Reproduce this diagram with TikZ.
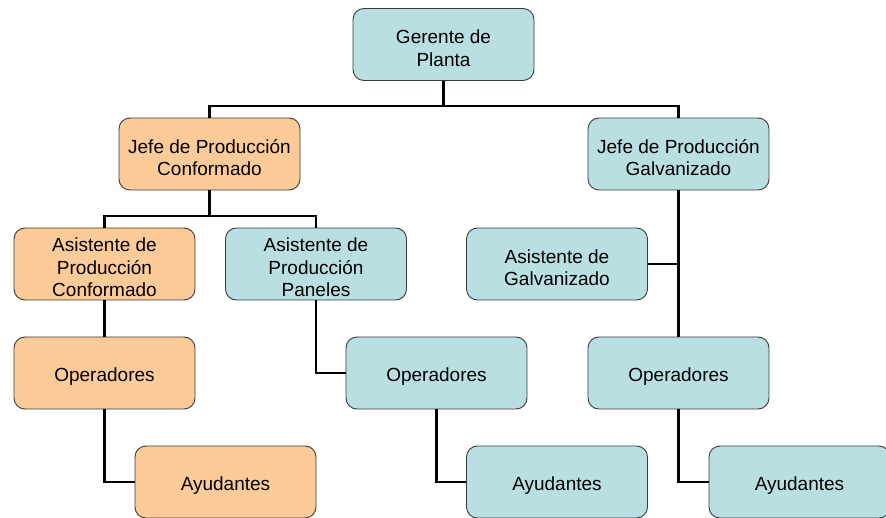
\documentclass[tikz,border=0pt]{standalone}
\usepackage{fontspec}
\setmainfont{Liberation Sans}
\definecolor{orfill}{HTML}{FCCB98}
\definecolor{blfill}{HTML}{B9DFE3}
\definecolor{boxline}{HTML}{3A3A3A}
\begin{document}
\begin{tikzpicture}[x=1pt,y=1pt,
  orgbox/.style={draw=boxline,line width=0.9pt,rounded corners=11pt,minimum width=181pt,minimum height=72pt,inner sep=0pt},
  orbox/.style={orgbox,fill=orfill},
  blbox/.style={orgbox,fill=blfill},
  lbl/.style={align=center,inner sep=0pt,yshift=-3.5pt,font=\fontsize{19}{22.5}\selectfont},
  conn/.style={line width=2.6pt,black}]
\useasboundingbox (0,0) rectangle (886,-518);
\clip (0,0) rectangle (886,-518);
\coordinate (b1) at (443.5,-106);
\coordinate (b2) at (209.5,-216);
\node[blbox,label={[lbl]center:{Gerente de\\Planta}}] (ger) at (443.5,-44.5) {};
\node[orbox,label={[lbl]center:{Jefe de Producción\\Conformado}}] (jc) at (209.5,-154) {};
\node[blbox,label={[lbl]center:{Jefe de Producción\\Galvanizado}}] (jg) at (678.5,-154) {};
\node[orbox,label={[lbl]center:{Asistente de\\Producción\\Conformado}}] (ac) at (104.5,-264) {};
\node[blbox,label={[lbl]center:{Asistente de\\Producción\\Paneles}}] (ap) at (316,-264) {};
\node[blbox,label={[lbl]center:{Asistente de\\Galvanizado}}] (ag) at (557,-264) {};
\node[orbox,label={[lbl]center:{Operadores}}] (oc) at (104.5,-373) {};
\node[blbox,label={[lbl]center:{Operadores}}] (op) at (436.5,-373) {};
\node[blbox,label={[lbl]center:{Operadores}}] (og) at (678.5,-373) {};
\node[orbox,label={[lbl]center:{Ayudantes}}] (yc) at (225.5,-482) {};
\node[blbox,label={[lbl]center:{Ayudantes}}] (yp) at (557,-482) {};
\node[blbox,label={[lbl]center:{Ayudantes}}] (yg) at (799.5,-482) {};
\draw[conn] (ger.south) -- (b1);
\draw[conn] (jc.north) |- (b1) -| (jg.north);
\draw[conn] (jc.south) -- (b2);
\draw[conn] (ac.north) |- (b2) -| (ap.north);
\draw[conn] (jg.south) -- (og.north);
\draw[conn] (ag.east) -- (ag.east -| jg.south);
\draw[conn] (ac.south) -- (oc.north);
\draw[conn] (ap.south) |- (op.west);
\draw[conn] (oc.south) |- (yc.west);
\draw[conn] (op.south) |- (yp.west);
\draw[conn] (og.south) |- (yg.west);
\end{tikzpicture}
\end{document}
